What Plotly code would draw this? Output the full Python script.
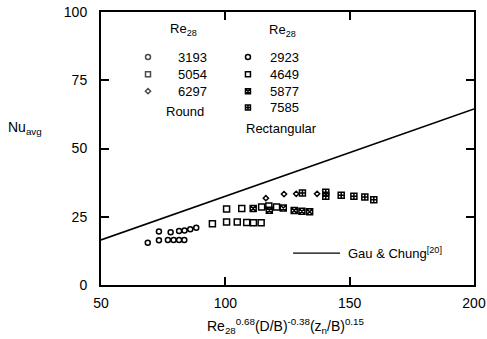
import plotly.graph_objects as go

# Correlation line of Gau & Chung
gc_x = [50, 200]
gc_y = [16.5, 64.5]

# Round nozzle, Re_2B series
round_3193_x = [73.3, 78.0, 81.4, 83.6, 85.9, 88.3]
round_3193_y = [19.6, 19.3, 19.8, 20.0, 20.4, 21.0]
round_5054_x = [100.5, 106.6, 114.6, 117.5, 120.6]
round_5054_y = [27.8, 28.0, 28.6, 28.9, 28.6]
round_6297_x = [116.3, 123.6, 128.5, 136.9]
round_6297_y = [31.8, 33.3, 33.4, 33.4]

# Rectangular nozzle, Re_2B series
rect_2923_x = [68.8, 73.3, 76.9, 79.2, 81.4, 83.5]
rect_2923_y = [15.5, 16.4, 16.5, 16.5, 16.5, 16.5]
rect_4649_x = [94.8, 100.5, 104.8, 108.6, 111.3, 114.4]
rect_4649_y = [22.4, 23.1, 23.1, 22.9, 22.8, 22.8]
rect_5877_x = [111.2, 117.7, 123.3, 127.7, 130.8, 133.9]
rect_5877_y = [28.0, 27.4, 28.2, 27.3, 27.0, 26.8]
rect_7585_x = [131.0, 140.4, 140.4, 146.6, 151.7, 156.1, 159.7]
rect_7585_y = [33.7, 34.0, 32.5, 32.9, 32.5, 32.2, 31.2]

round_labels = ["3193", "5054", "6297"]
rect_labels = ["2923", "4649", "5877", "7585"]
round_symbols = ["circle-open", "square-open", "diamond-open"]
rect_symbols = ["circle-open", "square-open", "square-x-open", "square-cross-open"]

FONT = "Liberation Sans, Arial, sans-serif"
INK = "black"

fig = go.Figure()

fig.add_trace(go.Scatter(x=gc_x, y=gc_y, mode="lines",
                         line=dict(color=INK, width=1.6), showlegend=False))

series = [
    (round_3193_x, round_3193_y, "circle-open", 5),
    (round_5054_x, round_5054_y, "square-open", 6),
    (round_6297_x, round_6297_y, "diamond-open", 4),
    (rect_2923_x, rect_2923_y, "circle-open", 5),
    (rect_4649_x, rect_4649_y, "square-open", 6),
    (rect_5877_x, rect_5877_y, "square-x-open", 6),
    (rect_7585_x, rect_7585_y, "square-cross-open", 6),
]
for xs, ys, sym, sz in series:
    fig.add_trace(go.Scatter(
        x=xs, y=ys, mode="markers", showlegend=False,
        marker=dict(symbol=sym, size=sz, color=INK, line=dict(color=INK, width=1.5)),
    ))

# Key drawn on an overlay axis spanning the plot area in fractions
round_rows = [0.835, 0.772, 0.710]
rect_rows = [0.835, 0.772, 0.710, 0.650]
fig.add_trace(go.Scatter(
    x=[0.126] * 3, y=round_rows, mode="markers", xaxis="x2", yaxis="y2", showlegend=False,
    marker=dict(symbol=round_symbols, size=[5, 5, 4], color=INK, line=dict(color=INK, width=1.5)),
))
fig.add_trace(go.Scatter(
    x=[0.394] * 4, y=rect_rows, mode="markers", xaxis="x2", yaxis="y2", showlegend=False,
    marker=dict(symbol=rect_symbols, size=5, color=INK, line=dict(color=INK, width=1.5)),
))
fig.add_trace(go.Scatter(
    x=[0.515, 0.641], y=[0.117, 0.117], mode="lines", xaxis="x2", yaxis="y2",
    showlegend=False, line=dict(color=INK, width=1.3),
))

ann = []
def txt(x, y, s, size=13, xanchor="center"):
    ann.append(dict(x=x, y=y, xref="paper", yref="paper", text=s, showarrow=False,
                    xanchor=xanchor, yanchor="middle",
                    font=dict(family=FONT, size=size, color=INK)))

txt(0.222, 0.935, "Re<sub>28</sub>")
txt(0.486, 0.932, "Re<sub>28</sub>")
for lab, y in zip(round_labels, round_rows):
    txt(0.244, y, lab)
for lab, y in zip(rect_labels, rect_rows):
    txt(0.493, y, lab)
txt(0.226, 0.634, "Round")
txt(0.483, 0.575, "Rectangular")
txt(0.657, 0.117, "Gau &amp; Chung<sup>[20]</sup>", xanchor="left")
txt(-0.205, 0.575, "Nu<sub>avg</sub>", size=14)
txt(0.495, -0.15, "Re<sub>28</sub><sup>0.68</sup>(D/B)<sup>-0.38</sup>(z<sub>n</sub>/B)<sup>0.15</sup>", size=14)

axis_common = dict(
    showline=True, linecolor=INK, linewidth=2, mirror="ticks",
    ticks="inside", ticklen=8, tickwidth=2, tickcolor=INK,
    showgrid=False, zeroline=False, automargin=False,
    tickfont=dict(family=FONT, size=14, color=INK),
)

fig.update_layout(
    width=487, height=339,
    margin=dict(l=101, r=13, t=12, b=54, autoexpand=False),
    paper_bgcolor="white", plot_bgcolor="white",
    xaxis=dict(range=[50, 200], tickvals=[50, 100, 150, 200],
               ticklabelstandoff=4, **axis_common),
    yaxis=dict(range=[0, 100], tickvals=[0, 25, 50, 75, 100],
               ticklabelstandoff=9, **axis_common),
    xaxis2=dict(range=[0, 1], overlaying="x", visible=False),
    yaxis2=dict(range=[0, 1], overlaying="y", visible=False),
    annotations=ann,
    font=dict(family=FONT, color=INK),
)

fig.write_html("out.html")
